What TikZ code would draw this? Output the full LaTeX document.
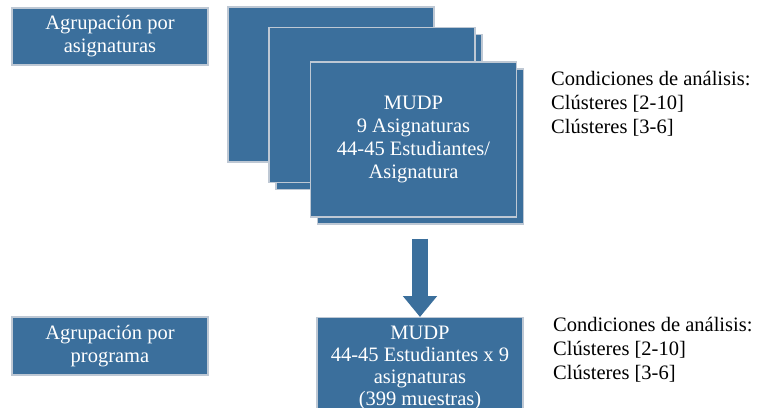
\documentclass[tikz,border=0pt]{standalone}
\usepackage{fontspec, xcolor}
\setmainfont{Liberation Serif}
\usetikzlibrary{arrows.meta, shadows}
\definecolor{boxblue}{RGB}{59,111,156}
\definecolor{boxedge}{RGB}{190,200,212}

\begin{document}
\begin{tikzpicture}[x=1pt, y=-1pt,
    box/.style={draw=boxedge, line width=1.2pt, fill=boxblue, text=white, align=center, inner sep=2pt,
        font=\fontsize{20.5}{23}\selectfont},
    stackbox/.style={box, minimum width=206pt, minimum height=155pt,
        copy shadow={shadow xshift=7pt, shadow yshift=-7pt}},
    cond/.style={anchor=west, align=left, inner sep=0pt, font=\fontsize{20.5}{24}\selectfont}]
    \useasboundingbox (0,0) rectangle (763,407);
    \node [box, minimum width=196pt, minimum height=57pt] (grpA) at (110,36.5) {Agrupación por\\asignaturas};
    \node [box, minimum width=206pt, minimum height=155pt] (backA) at (331,84.5) {};
    \node [stackbox] (backB) at (372,105) {};
    \node [stackbox] (mudpA) at (413.5,139.5) {MUDP\\9 Asignaturas\\44-45 Estudiantes/\\Asignatura};
    \node [cond] (condA) at (551,104) {Condiciones de análisis:\\Clústeres [2-10]\\Clústeres [3-6]};
    \node [box, minimum width=196pt, minimum height=58pt] (grpB) at (110,346) {Agrupación por\\programa};
    \node [box, anchor=north, minimum width=206pt, minimum height=100pt, inner ysep=0pt,
        font=\fontsize{20.5}{22}\selectfont] (mudpB) at (420,317)
        {MUDP\\44-45 Estudiantes x 9\\asignaturas\\(399 muestras)};
    \node [cond] (condB) at (553,350) {Condiciones de análisis:\\Clústeres [2-10]\\Clústeres [3-6]};
    \draw [boxblue, line width=16pt, -{Triangle[width=33pt, length=21pt]}, shorten <= 21pt]
        (mudpA.south -| mudpB.north) -- (mudpB.north);
\end{tikzpicture}
\end{document}
